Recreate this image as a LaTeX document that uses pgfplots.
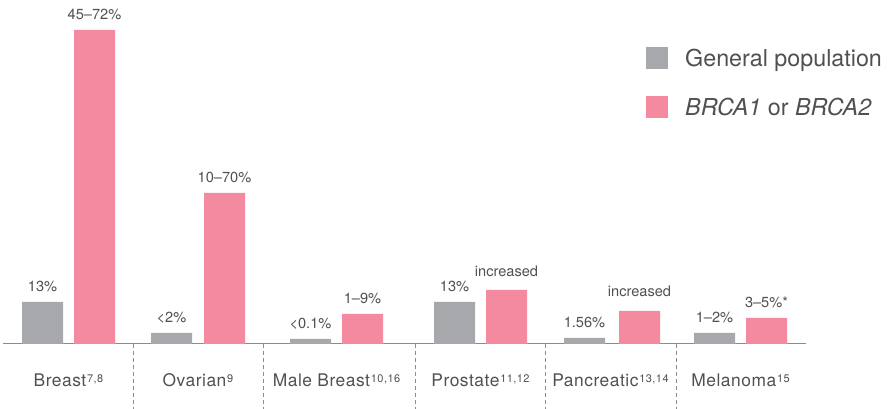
\documentclass[border=0pt]{standalone}
\usepackage{pgfplots}
\pgfplotsset{compat=1.18}
\usepackage{fontspec}
\setmainfont{TeX Gyre Heros}
\definecolor{gbar}{RGB}{167,168,172}
\definecolor{pbar}{RGB}{243,138,160}
\definecolor{txt}{RGB}{80,80,80}
\definecolor{axc}{RGB}{140,140,140}
\newcommand{\sups}[1]{\kern0.8pt\raisebox{4.8pt}{\fontsize{11}{11}\selectfont\addfontfeatures{LetterSpace=4}#1}}
\begin{document}
\begin{tikzpicture}
\begin{axis}[
  at={(0pt,0pt)}, anchor=south west,
  scale only axis, width=803pt, height=344pt,
  xmin=3, xmax=806, ymin=0, ymax=344,
  axis x line*=bottom, axis y line=none,
  x axis line style={draw=axc, line width=1pt, -},
  xtick={68.5,198,336.5,480.5,610.5,740.5},
  xticklabels={Breast\sups{7,8}, Ovarian\sups{9}, Male Breast\sups{10,16}, Prostate\sups{11,12}, Pancreatic\sups{13,14}, Melanoma\sups{15}},
  major tick length=0pt, xtick style={draw=none},
  xticklabel style={font=\fontsize{17.4}{18}\selectfont\addfontfeatures{LetterSpace=3}, text=txt, anchor=base, yshift=-43pt},
  ybar, bar width=41, bar shift=0,
  nodes near coords, point meta=explicit symbolic,
  every node near coord/.append style={font=\fontsize{14.6}{16}\selectfont, text=txt, anchor=base, yshift=10.5pt},
  clip=false,
  legend style={at={(axis cs:646,297)}, anchor=north west, draw=none, fill=none, inner sep=0pt, row sep=27pt, column sep=17pt, font=\fontsize{23.3}{24}\selectfont, text=txt, nodes={inner sep=0pt}, cells={anchor=west}},
]
\addplot[fill=gbar, draw=none, legend image code/.code={\fill[gbar] (0pt,-11pt) rectangle (22pt,11pt);}] coordinates {
  (42.5,42) [13\%]
  (171.5,11) [<2\%]
  (310.5,5) [<0.1\%]
  (454.5,42) [13\%]
  (584.5,6) [1.56\%]
  (714.5,11) [1–2\%]
};
\addlegendentry{General population}
\addplot[fill=pbar, draw=none, legend image code/.code={\fill[pbar] (0pt,-11pt) rectangle (22pt,11pt);}] coordinates {
  (94.5,314) [45–72\%]
  (224.5,151) [10–70\%]
  (362.5,30) [1–9\%]
  (506.5,54) [\raisebox{3pt}{increased}]
  (639.5,33) [\raisebox{3.5pt}{increased}]
  (766.5,26) [3–5\%*]
};
\addlegendentry{\textit{BRCA1} or \textit{BRCA2}}
\pgfplotsinvokeforeach{133,263,415,545,676}{
  \draw[axc, line width=0.9pt, dash pattern=on 4pt off 3pt] (axis cs:#1,0) -- (axis cs:#1,-65);
}
\end{axis}
\pgfresetboundingbox
\path[use as bounding box] (-3pt,-65pt) rectangle (888pt,344pt);
\end{tikzpicture}
\end{document}
